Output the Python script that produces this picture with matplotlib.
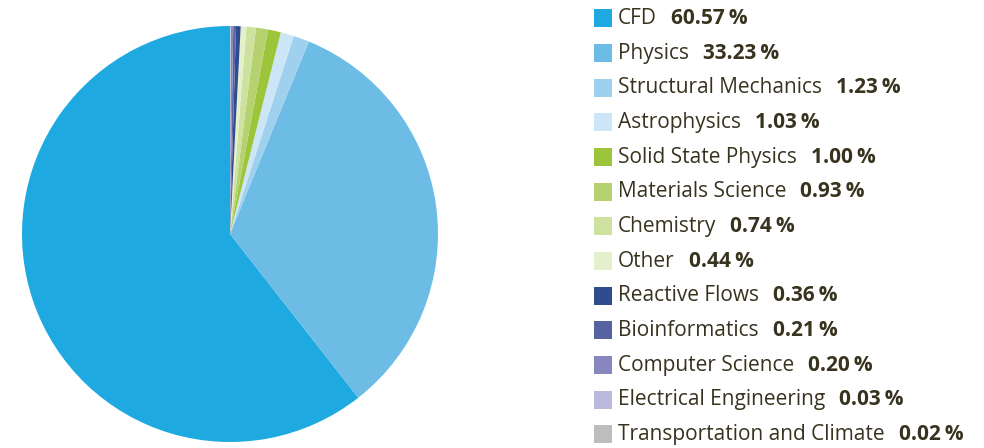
import matplotlib
matplotlib.use("Agg")
import matplotlib.pyplot as plt
from matplotlib.patches import Rectangle

categories = ["CFD", "Physics", "Structural Mechanics", "Astrophysics",
              "Solid State Physics", "Materials Science", "Chemistry", "Other",
              "Reactive Flows", "Bioinformatics", "Computer Science",
              "Electrical Engineering", "Transportation and Climate"]
values = [60.57, 33.23, 1.23, 1.03, 1.00, 0.93, 0.74, 0.44, 0.36, 0.21, 0.20, 0.03, 0.02]
colors = ["#1eaae0", "#6cbce6", "#9fd1ef", "#cce6f7", "#9cc53c", "#b6d170",
          "#cde29f", "#e4efcb", "#314b8f", "#5563a0", "#8787bd", "#bcb9dc", "#bdbdbd"]

W, H = 984, 448
fig = plt.figure(figsize=(W / 100, H / 100), dpi=100)
ax = fig.add_axes([22 / W, 6 / H, 416 / W, 416 / H])
ax.pie(values, colors=colors, startangle=90, counterclock=True,
       wedgeprops=dict(linewidth=0))
ax.set_xlim(-1, 1)
ax.set_ylim(-1, 1)
ax.set_aspect("equal")
ax.axis("off")

txt_color = "#38331f"
fam = ["Open Sans", "DejaVu Sans"]
fs = 15.0
fig.canvas.draw()
renderer = fig.canvas.get_renderer()
y0 = 18.5
dy = 34.65
for i, (c, v, col) in enumerate(zip(categories, values, colors)):
    yc = y0 + i * dy
    fig.patches.append(Rectangle((594 / W, 1 - (yc + 9) / H), 18 / W, 18 / H,
                                 transform=fig.transFigure, facecolor=col,
                                 edgecolor="none"))
    t = fig.text(618 / W, 1 - yc / H, c, fontsize=fs, family=fam,
                 color=txt_color, va="center", ha="left")
    bb = t.get_window_extent(renderer)
    fig.text((bb.x1 + 14) / W, 1 - yc / H, f"{v:.2f}\u2009%",
             fontsize=fs, family=fam, weight="bold", color=txt_color,
             va="center", ha="left")

fig.savefig("out.png", dpi=100)
